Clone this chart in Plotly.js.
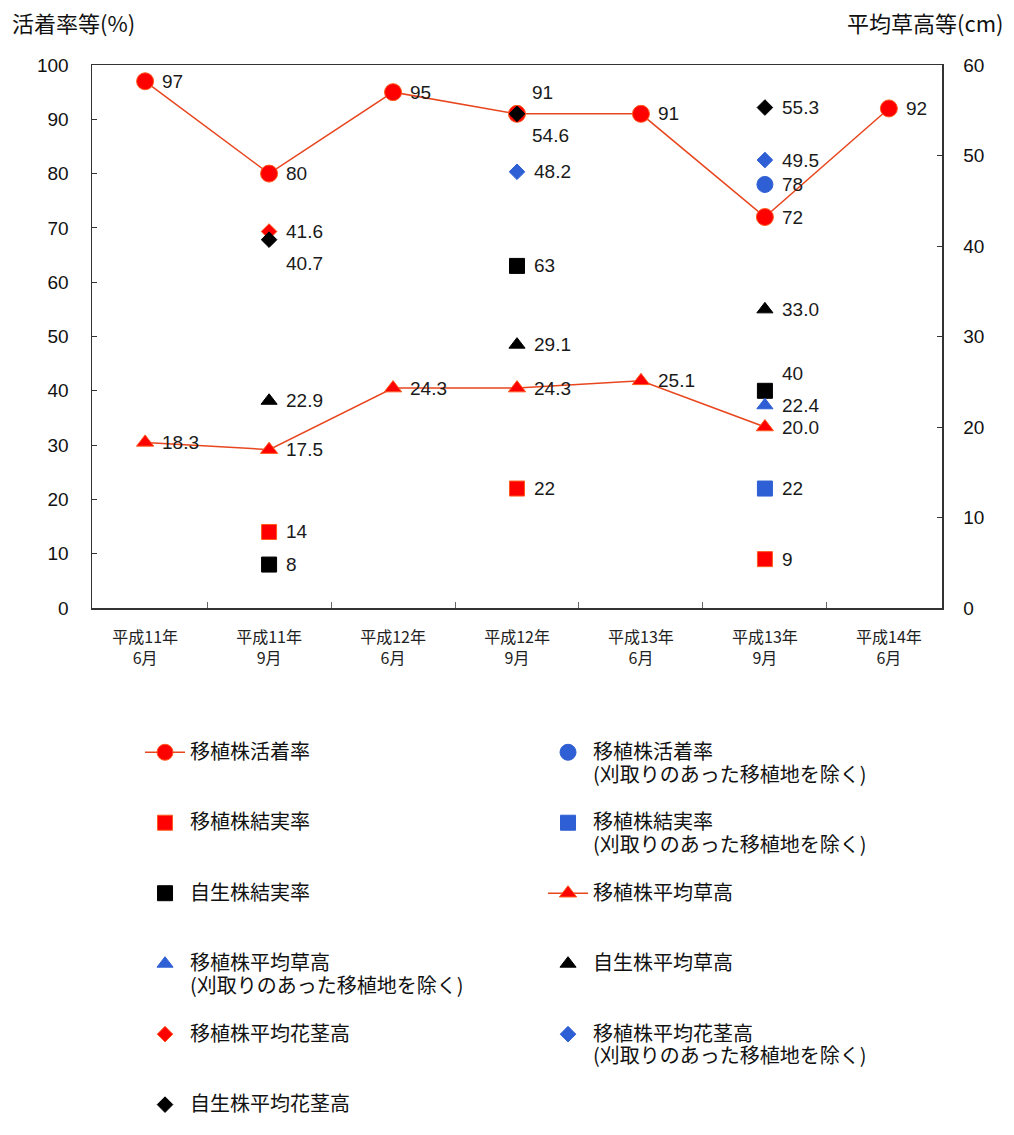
<!DOCTYPE html>
<html>
<head>
<meta charset="utf-8">
<script src="https://cdn.plot.ly/plotly-3.0.1.min.js"></script>
<style>
  html, body { margin: 0; padding: 0; background: #fff; }
  #chart { width: 1014px; height: 1135px; }
</style>
</head>
<body>
<div id="chart"></div>
<script>
// Survey dates
const categories = ['平成11年<br>6月', '平成11年<br>9月', '平成12年<br>6月', '平成12年<br>9月',
                    '平成13年<br>6月', '平成13年<br>9月', '平成14年<br>6月'];

// Left axis: rates (%)
const transplantSurvival      = [97, 80, 95, 91, 91, 72, 92];
const transplantSurvivalExcl  = [null, null, null, null, null, 78, null];
const transplantFruiting      = [null, 14, null, 22, null, 9, null];
const transplantFruitingExcl  = [null, null, null, null, null, 22, null];
const wildFruiting            = [null, 8, null, 63, null, 40, null];

// Right axis: heights (cm)
const transplantHeight        = [18.3, 17.5, 24.3, 24.3, 25.1, 20.0, null];
const transplantHeightExcl    = [null, null, null, null, null, 22.4, null];
const wildHeight              = [null, 22.9, null, 29.1, null, 33.0, null];
const transplantStem          = [null, 41.6, null, null, null, null, null];
const transplantStemExcl      = [null, null, null, 48.2, null, 49.5, null];
const wildStem                = [null, 40.7, null, 54.6, null, 55.3, null];

const EXCL = '(刈取りのあった移植地を除く)';
const RED = '#ff0000', BLUE = '#2e5fd4', BLACK = '#000000', LINE = '#e8461e';
const CJK = 'Noto Sans CJK JP';
const NUM = 'Liberation Sans, Arial, sans-serif';

// legend entries: three lines tall so rows are evenly spaced (last row needs no padding)
function legendName(main, sub, last) {
  const body = '<span style="font-size:20px">' + main + '</span>';
  if (last) return body;
  const second = sub ? '<span style="font-size:20px">' + sub + '</span>' : '\u00a0';
  return body + '<br>' + second + '<br>\u00a0';
}

const series = [
  { y: transplantSurvival,     name: legendName('移植株活着率'),            axis: 'y',  sym: 'circle',      size: 17, color: RED,   line: true,  dec: 0 },
  { y: transplantSurvivalExcl, name: legendName('移植株活着率', EXCL),      axis: 'y',  sym: 'circle',      size: 16, color: BLUE,  line: false, dec: 0 },
  { y: transplantFruiting,     name: legendName('移植株結実率'),            axis: 'y',  sym: 'square',      size: 15, color: RED,   line: false, dec: 0 },
  { y: transplantFruitingExcl, name: legendName('移植株結実率', EXCL),      axis: 'y',  sym: 'square',      size: 15, color: BLUE,  line: false, dec: 0 },
  { y: wildFruiting,           name: legendName('自生株結実率'),            axis: 'y',  sym: 'square',      size: 15, color: BLACK, line: false, dec: 0 },
  { y: transplantHeight,       name: legendName('移植株平均草高'),          axis: 'y2', sym: 'triangle-up', size: 15, color: RED,   line: true,  dec: 1 },
  { y: transplantHeightExcl,   name: legendName('移植株平均草高', EXCL),    axis: 'y2', sym: 'triangle-up', size: 14, color: BLUE,  line: false, dec: 1 },
  { y: wildHeight,             name: legendName('自生株平均草高'),          axis: 'y2', sym: 'triangle-up', size: 14, color: BLACK, line: false, dec: 1 },
  { y: transplantStem,         name: legendName('移植株平均花茎高'),        axis: 'y2', sym: 'diamond',     size: 12, color: RED,   line: false, dec: 1 },
  { y: transplantStemExcl,     name: legendName('移植株平均花茎高', EXCL),  axis: 'y2', sym: 'diamond',     size: 12, color: BLUE,  line: false, dec: 1 },
  { y: wildStem,               name: legendName('自生株平均花茎高', null, true), axis: 'y2', sym: 'diamond', size: 12, color: BLACK, line: false, dec: 1 }
];

// label nudges (px) where values would collide: [seriesIndex, pointIndex, dx, dy]
const labelNudges = [
  [0, 3, -2, 21],
  [10, 3, -2, -22],
  [10, 1, 0, -24],
  [4, 5, 0, 17]
];

const traces = series.map(s => ({
  type: 'scatter',
  x: categories,
  y: s.y,
  yaxis: s.axis,
  name: s.name,
  mode: s.line ? 'lines+markers' : 'markers',
  connectgaps: false,
  line: { color: LINE, width: 1.5 },
  marker: {
    symbol: s.sym, size: s.size, color: s.color,
    line: { color: s.color === RED ? '#ff5a1e' : s.color, width: 1 }
  },
  hoverinfo: 'skip'
}));

const annotations = [];
series.forEach((s, si) => {
  s.y.forEach((v, i) => {
    if (v === null) return;
    let dx = 15, dy = 0;
    labelNudges.forEach(n => { if (n[0] === si && n[1] === i) { dx += n[2]; dy = n[3]; } });
    annotations.push({
      x: categories[i], y: v, xref: 'x', yref: s.axis,
      text: v.toFixed(s.dec), showarrow: false,
      xanchor: 'left', yanchor: 'middle', xshift: dx, yshift: dy,
      font: { family: NUM, size: 19, color: '#1a1a1a' }
    });
  });
});

// axis titles placed above each value axis
annotations.push({
  xref: 'paper', yref: 'paper', x: -0.097, y: 1.079, xanchor: 'left', yanchor: 'middle',
  text: '活着率等(%)', showarrow: false, font: { family: CJK, size: 22, color: '#111' }
});
annotations.push({
  xref: 'paper', yref: 'paper', x: 1.074, y: 1.079, xanchor: 'right', yanchor: 'middle',
  text: '平均草高等(cm)', showarrow: false, font: { family: CJK, size: 22, color: '#111' }
});

const layout = {
  width: 1014, height: 1135,
  margin: { l: 92, r: 72, t: 65, b: 525 },
  paper_bgcolor: '#fff', plot_bgcolor: '#fff',
  font: { family: NUM, color: '#111' },
  showlegend: true,
  xaxis: {
    type: 'category', showgrid: false, zeroline: false,
    showline: true, mirror: true, linecolor: '#333', linewidth: 1.5,
    ticks: 'inside', tickson: 'boundaries', ticklen: 6, tickcolor: '#666',
    tickfont: { family: CJK, size: 16, color: '#222' },
    ticklabelstandoff: 14
  },
  yaxis: {
    range: [0, 100], dtick: 10, showgrid: false, zeroline: false,
    showline: true, linecolor: '#333', linewidth: 1.5,
    ticks: 'inside', ticklen: 5, tickcolor: '#333',
    tickfont: { family: NUM, size: 19, color: '#111' },
    ticklabelstandoff: 18
  },
  yaxis2: {
    range: [0, 60], dtick: 10, overlaying: 'y', side: 'right',
    showgrid: false, zeroline: false,
    showline: true, linecolor: '#333', linewidth: 1.5,
    ticks: 'inside', ticklen: 5, tickcolor: '#333',
    tickfont: { family: NUM, size: 19, color: '#111' },
    ticklabelstandoff: 16
  },
  legend: {
    orientation: 'h', x: 0.0565, xanchor: 'left', y: -0.233, yanchor: 'top',
    valign: 'top', itemwidth: 40, entrywidth: 348, entrywidthmode: 'pixels',
    font: { family: CJK, size: 17.3, color: '#111' },
    bgcolor: 'rgba(0,0,0,0)', itemclick: false
  },
  annotations: annotations
};

Plotly.newPlot('chart', traces, layout, { displayModeBar: false, staticPlot: true });
</script>
</body>
</html>
